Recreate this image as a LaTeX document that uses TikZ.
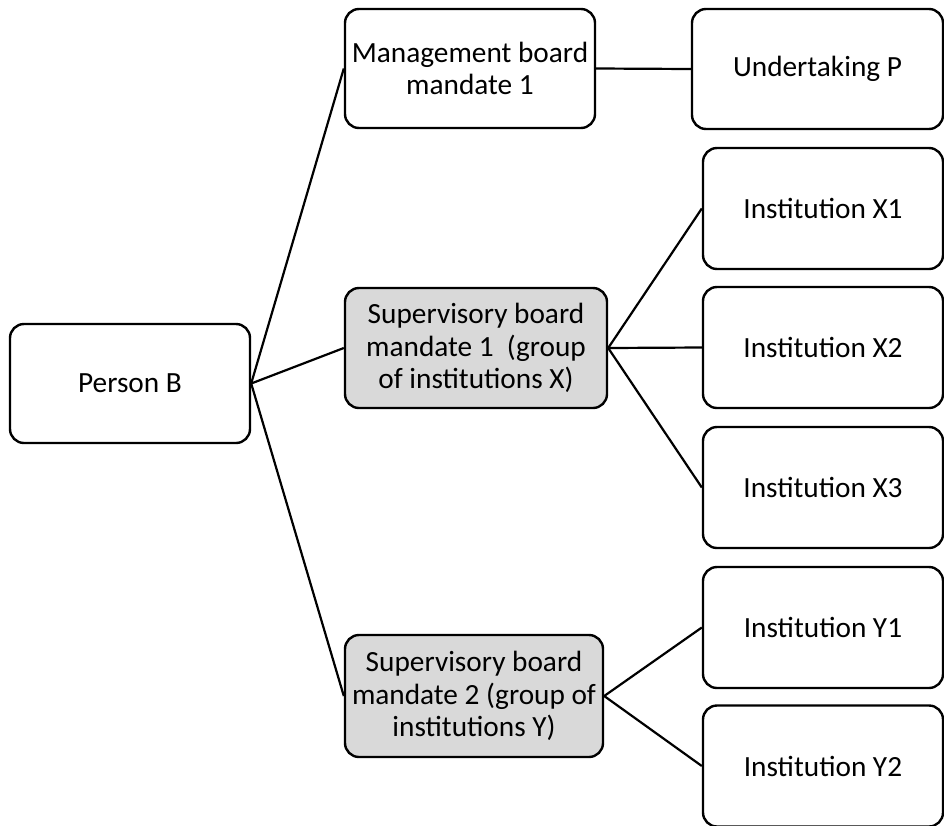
\documentclass[tikz,border=0pt]{standalone}
\usepackage{fontspec}
\setmainfont{Carlito}
\begin{document}
\begin{tikzpicture}[x=1pt,y=-1pt,
  box/.style={draw=black, line width=2.4pt, rounded corners=14pt, fill=white,
    inner sep=0pt, align=center, font=\fontsize{29.3}{32.5}\selectfont},
  boardbox/.style={box, fill=boardgray},
  link/.style={draw=black, line width=2.2pt}]
\definecolor{boardgray}{HTML}{D9D9D9}
\useasboundingbox (0,0) rectangle (944,825);
\clip (0,0) rectangle (944,825);
\fill[white] (0,0) rectangle (944,825);

% person and mandates
\node[box, minimum width=240pt, minimum height=119pt] (pb) at (130,383.5) {Person B};
\node[box, minimum width=250pt, minimum height=119pt] (mb) at (470,68.5) {Management board\\mandate 1};
\node[boardbox, minimum width=262pt, minimum height=120pt] (s1) at (476,348) {Supervisory board\\mandate 1\ \ (group\\of institutions X)};
\node[boardbox, minimum width=258pt, minimum height=122pt] (s2) at (474,696) {Supervisory board\\mandate 2 (group of\\institutions Y)};

% undertakings and institutions
\node[box, minimum width=251pt, minimum height=120pt] (up) at (817.5,69) {Undertaking P};
\node[box, minimum width=240pt, minimum height=121pt] (x1) at (823,208.5) {Institution X1};
\node[box, minimum width=240pt, minimum height=121pt] (x2) at (823,347.5) {Institution X2};
\node[box, minimum width=240pt, minimum height=121pt] (x3) at (823,487.5) {Institution X3};
\node[box, minimum width=240pt, minimum height=121pt] (y1) at (823,627.5) {Institution Y1};
\node[box, minimum width=240pt, minimum height=121pt] (y2) at (823,766) {Institution Y2};

% connectors
\draw[link] (pb.east) -- (mb.west);
\draw[link] (pb.east) -- (s1.west);
\draw[link] (pb.east) -- (s2.west);
\draw[link] (mb.east) -- (up.west);
\draw[link] (s1.east) -- (x1.west);
\draw[link] (s1.east) -- (x2.west);
\draw[link] (s1.east) -- (x3.west);
\draw[link] (s2.east) -- (y1.west);
\draw[link] (s2.east) -- (y2.west);
\end{tikzpicture}
\end{document}
